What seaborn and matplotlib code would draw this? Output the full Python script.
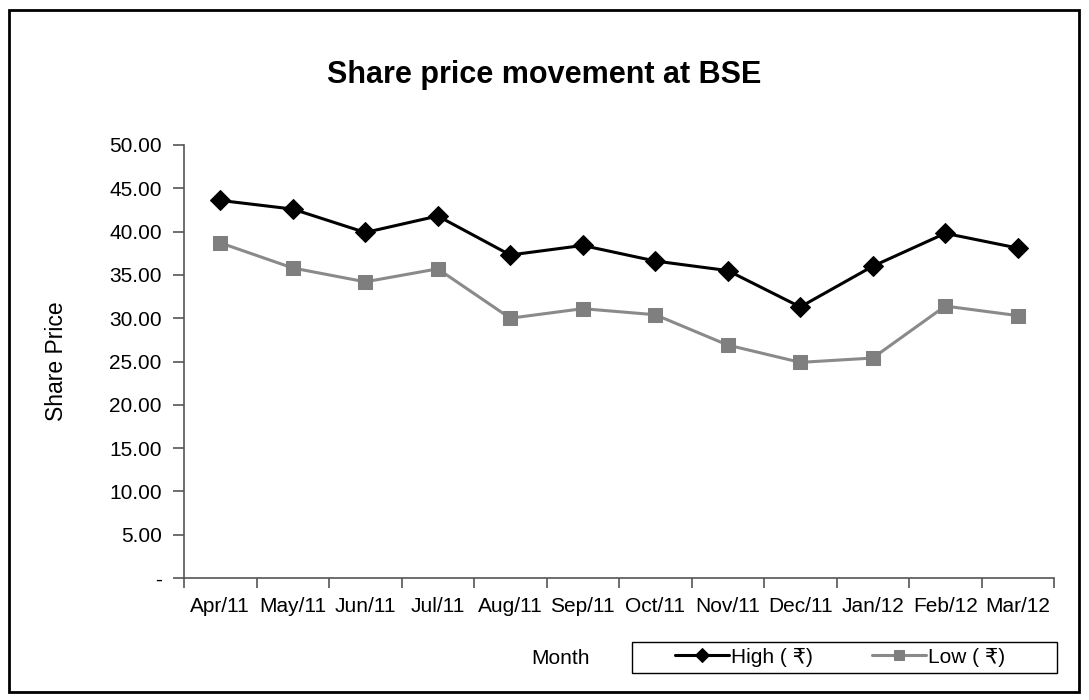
import pandas as pd
import numpy as np
import matplotlib.pyplot as plt
import seaborn as sns
from matplotlib.patches import Rectangle
from matplotlib.ticker import FuncFormatter

# Data
months = ['Apr/11', 'May/11', 'Jun/11', 'Jul/11', 'Aug/11', 'Sep/11',
          'Oct/11', 'Nov/11', 'Dec/11', 'Jan/12', 'Feb/12', 'Mar/12']
high = [43.6, 42.6, 39.9, 41.8, 37.3, 38.4, 36.6, 35.5, 31.3, 36.0, 39.8, 38.1]
low = [38.7, 35.8, 34.2, 35.7, 30.0, 31.1, 30.4, 26.9, 24.9, 25.4, 31.4, 30.3]

df = pd.DataFrame({'pos': np.arange(len(months)), 'month': months,
                   'High': high, 'Low': low})

sns.set_style('white')
plt.rcParams['font.family'] = ['Liberation Sans', 'DejaVu Sans']
plt.rcParams['text.color'] = 'black'
plt.rcParams['xtick.color'] = 'black'
plt.rcParams['ytick.color'] = 'black'
plt.rcParams['axes.labelcolor'] = 'black'

fig = plt.figure(figsize=(10.89, 7.0), dpi=100)
ax = fig.add_axes([184 / 1089, 1 - 578 / 700, (1054 - 184) / 1089, (578 - 145) / 700])

sns.lineplot(data=df, x='pos', y='High', ax=ax, color='black', lw=2.2,
             marker='D', markersize=10, markeredgecolor='black',
             label='High ( \u20b9)')
sns.lineplot(data=df, x='pos', y='Low', ax=ax, color='#8a8a8a', lw=2.2,
             marker='s', markersize=10.5, markerfacecolor='#7f7f7f',
             markeredgecolor='#7f7f7f', label='Low ( \u20b9)')

# axes and ticks
ax.set_xlim(-0.5, len(months) - 0.5)
ax.set_ylim(0, 50)
ax.set_yticks(np.arange(0, 50.1, 5))
ax.yaxis.set_major_formatter(FuncFormatter(lambda v, p: '-' if v == 0 else f'{v:.2f}'))
ax.set_xticks(df['pos'])
ax.set_xticklabels(months)
ax.set_xticks(np.arange(-0.5, len(months), 1), minor=True)
ax.tick_params(axis='x', which='major', bottom=True, length=0, pad=14, labelsize=15)
ax.tick_params(axis='x', which='minor', bottom=True, length=7, width=1.2,
               color='#555555', direction='out')
ax.tick_params(axis='y', left=True, length=8, width=1.2, color='#555555',
               direction='out', labelsize=15, pad=8)

for side in ['top', 'right']:
    ax.spines[side].set_visible(False)
for side in ['left', 'bottom']:
    ax.spines[side].set_color('#555555')
    ax.spines[side].set_linewidth(1.2)

ax.set_xlabel('')
ax.set_ylabel('Share Price', fontsize=16.5)
ax.yaxis.set_label_coords((68 - 184) / 870, 0.5)

# title
fig.text(0.5, 1 - 75 / 700, 'Share price movement at BSE', ha='center',
         va='center', fontsize=22, fontweight='bold')

# x label sits beside the legend
fig.text(590 / 1089, 1 - 658 / 700, 'Month', ha='right', va='center', fontsize=15)

leg = ax.legend(loc='center', bbox_to_anchor=(840 / 1089, 1 - 657 / 700),
                bbox_transform=fig.transFigure, ncol=2, frameon=False,
                fontsize=15, handlelength=2.6, handletextpad=0.1,
                columnspacing=2.8, markerscale=0.7)

# legend box drawn separately to match its width
fig.patches.append(Rectangle((632 / 1089, 1 - 673 / 700), 425 / 1089, 31 / 700,
                             transform=fig.transFigure, fill=False,
                             edgecolor='black', linewidth=1.0))

# outer border of the chart area
fig.patches.append(Rectangle((9 / 1089, 8 / 700), 1070 / 1089, 682 / 700,
                             transform=fig.transFigure, fill=False,
                             edgecolor='black', linewidth=2))

plt.savefig('out.png', dpi=100)
